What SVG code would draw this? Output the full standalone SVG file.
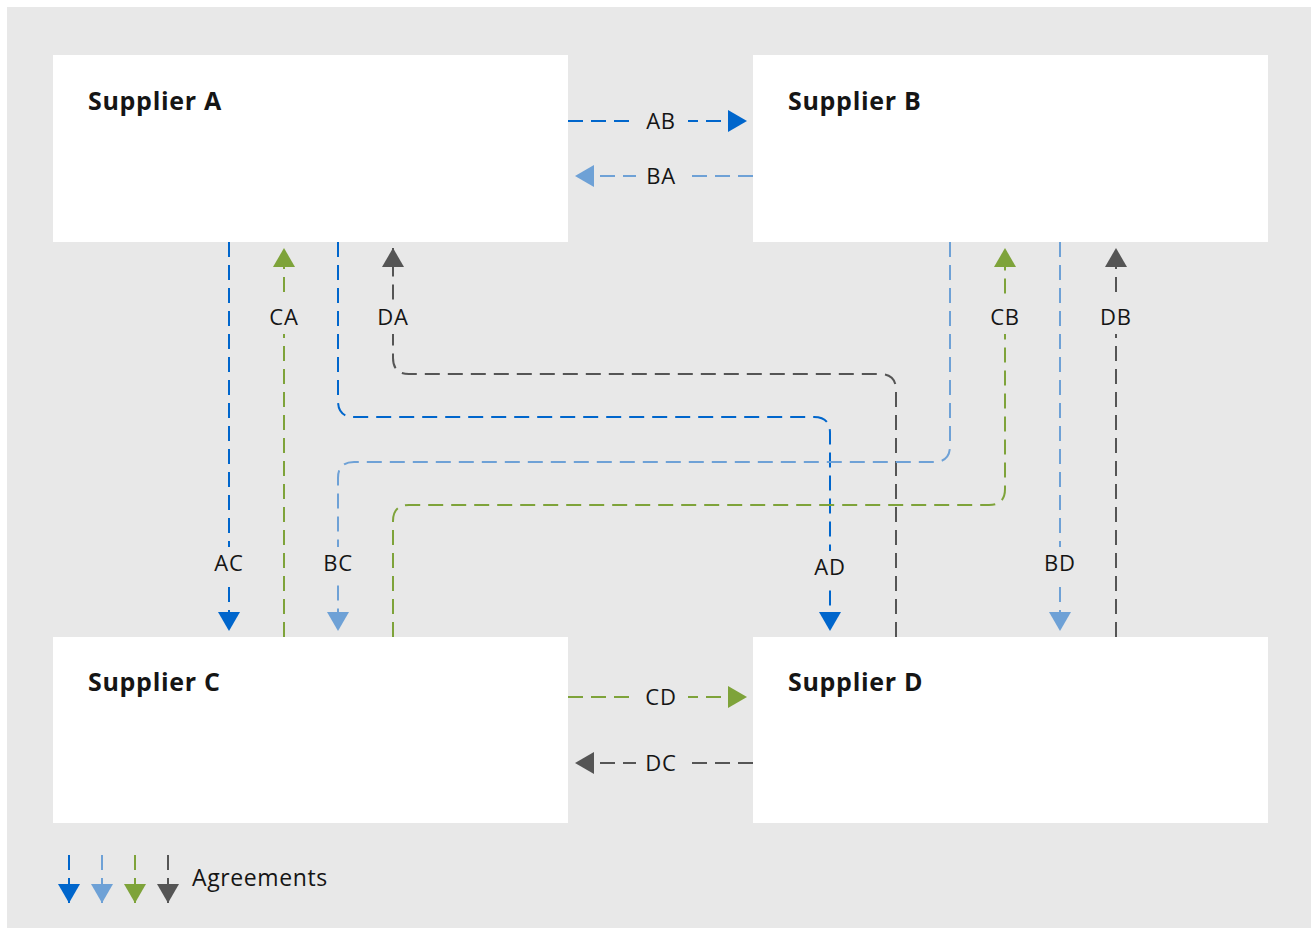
<svg xmlns="http://www.w3.org/2000/svg" width="1311" height="928" viewBox="0 0 1311 928">
  <defs>
    <style>
      .bg { fill: #e8e8e8; }
      .box { fill: #ffffff; }
      .title { font-family: "Open Sans", "Liberation Sans", sans-serif; font-weight: 700; font-size: 25px; letter-spacing: 0.7px; fill: #151515; }
      .lbl { font-family: "Open Sans", "Liberation Sans", sans-serif; font-size: 22px; letter-spacing: 0.8px; fill: #151515; text-anchor: middle; }
      .lblbg { fill: #e8e8e8; }
      .c { fill: none; stroke-width: 2; stroke-dasharray: 15 8; }
      .blue { stroke: #0066cc; }
      .lblue { stroke: #6ea1d6; }
      .green { stroke: #7ea33a; }
      .gray { stroke: #555555; }
    </style>
    <marker id="mBlue" markerUnits="userSpaceOnUse" markerWidth="20" markerHeight="22" viewBox="0 0 20 22" refX="19" refY="11" orient="auto"><path d="M0,0 L19,11 L0,22 Z" fill="#0066cc"/></marker>
    <marker id="mLblue" markerUnits="userSpaceOnUse" markerWidth="20" markerHeight="22" viewBox="0 0 20 22" refX="19" refY="11" orient="auto"><path d="M0,0 L19,11 L0,22 Z" fill="#6ea1d6"/></marker>
    <marker id="mGreen" markerUnits="userSpaceOnUse" markerWidth="20" markerHeight="22" viewBox="0 0 20 22" refX="19" refY="11" orient="auto"><path d="M0,0 L19,11 L0,22 Z" fill="#7ea33a"/></marker>
    <marker id="mGray" markerUnits="userSpaceOnUse" markerWidth="20" markerHeight="22" viewBox="0 0 20 22" refX="19" refY="11" orient="auto"><path d="M0,0 L19,11 L0,22 Z" fill="#555555"/></marker>
  </defs>

  <rect class="bg" x="7" y="7" width="1304" height="921"/>

  <g id="supplierA"><rect class="box" x="53" y="55" width="515" height="187"/><text class="title" x="88" y="110">Supplier A</text></g>
  <g id="supplierB"><rect class="box" x="753" y="55" width="515" height="187"/><text class="title" x="788" y="110">Supplier B</text></g>
  <g id="supplierC"><rect class="box" x="53" y="637" width="515" height="186"/><text class="title" x="88" y="691">Supplier C</text></g>
  <g id="supplierD"><rect class="box" x="753" y="637" width="515" height="186"/><text class="title" x="788" y="691">Supplier D</text></g>

  <g id="connectors">
    <path class="c blue" d="M568,121 H747" marker-end="url(#mBlue)"/>
    <path class="c lblue" d="M753,176 H575" marker-end="url(#mLblue)"/>
    <path class="c green" d="M568,697 H747" marker-end="url(#mGreen)"/>
    <path class="c gray" d="M753,763 H575" marker-end="url(#mGray)"/>

    <path class="c blue" d="M229,242 V631" marker-end="url(#mBlue)"/>
    <path class="c green" d="M284,637 V248" marker-end="url(#mGreen)"/>
    <path class="c blue" d="M338,242 V401 Q338,417 354,417 H814 Q830,417 830,433 V631" marker-end="url(#mBlue)"/>
    <path class="c gray" d="M896,637 V390 Q896,374 880,374 H409 Q393,374 393,358 V248" marker-end="url(#mGray)"/>
    <path class="c lblue" d="M950,242 V446 Q950,462 934,462 H354 Q338,462 338,478 V631" marker-end="url(#mLblue)"/>
    <path class="c green" d="M393,637 V521 Q393,505 409,505 H989 Q1005,505 1005,489 V248" marker-end="url(#mGreen)"/>
    <path class="c lblue" d="M1060,242 V631" marker-end="url(#mLblue)"/>
    <path class="c gray" d="M1116,637 V248" marker-end="url(#mGray)"/>

    <g id="labels">
      <rect class="lblbg" x="636" y="108" width="52" height="26"/><text class="lbl" x="661" y="129">AB</text>
      <rect class="lblbg" x="636" y="163" width="52" height="26"/><text class="lbl" x="661" y="184">BA</text>
      <rect class="lblbg" x="636" y="684" width="52" height="26"/><text class="lbl" x="661" y="705">CD</text>
      <rect class="lblbg" x="636" y="750" width="52" height="26"/><text class="lbl" x="661" y="771">DC</text>

      <rect class="lblbg" x="207" y="547" width="44" height="34"/><text class="lbl" x="229" y="571">AC</text>
      <rect class="lblbg" x="262" y="300" width="44" height="34"/><text class="lbl" x="284" y="325">CA</text>
      <rect class="lblbg" x="316" y="547" width="44" height="34"/><text class="lbl" x="338" y="571">BC</text>
      <rect class="lblbg" x="371" y="300" width="44" height="34"/><text class="lbl" x="393" y="325">DA</text>
      <rect class="lblbg" x="808" y="551" width="44" height="34"/><text class="lbl" x="830" y="575">AD</text>
      <rect class="lblbg" x="983" y="300" width="44" height="34"/><text class="lbl" x="1005" y="325">CB</text>
      <rect class="lblbg" x="1038" y="547" width="44" height="34"/><text class="lbl" x="1060" y="571">BD</text>
      <rect class="lblbg" x="1094" y="300" width="44" height="34"/><text class="lbl" x="1116" y="325">DB</text>
    </g>
  </g>

  <g id="legend">
    <path class="c blue" d="M69,855 V903" stroke-dasharray="8 6" marker-end="url(#mBlue)"/>
    <path class="c lblue" d="M102,855 V903" stroke-dasharray="8 6" marker-end="url(#mLblue)"/>
    <path class="c green" d="M135,855 V903" stroke-dasharray="8 6" marker-end="url(#mGreen)"/>
    <path class="c gray" d="M168,855 V903" stroke-dasharray="8 6" marker-end="url(#mGray)"/>
    <text x="192" y="886" font-family="Open Sans, Liberation Sans, sans-serif" font-size="23" letter-spacing="0.6" fill="#151515">Agreements</text>
  </g>
</svg>
